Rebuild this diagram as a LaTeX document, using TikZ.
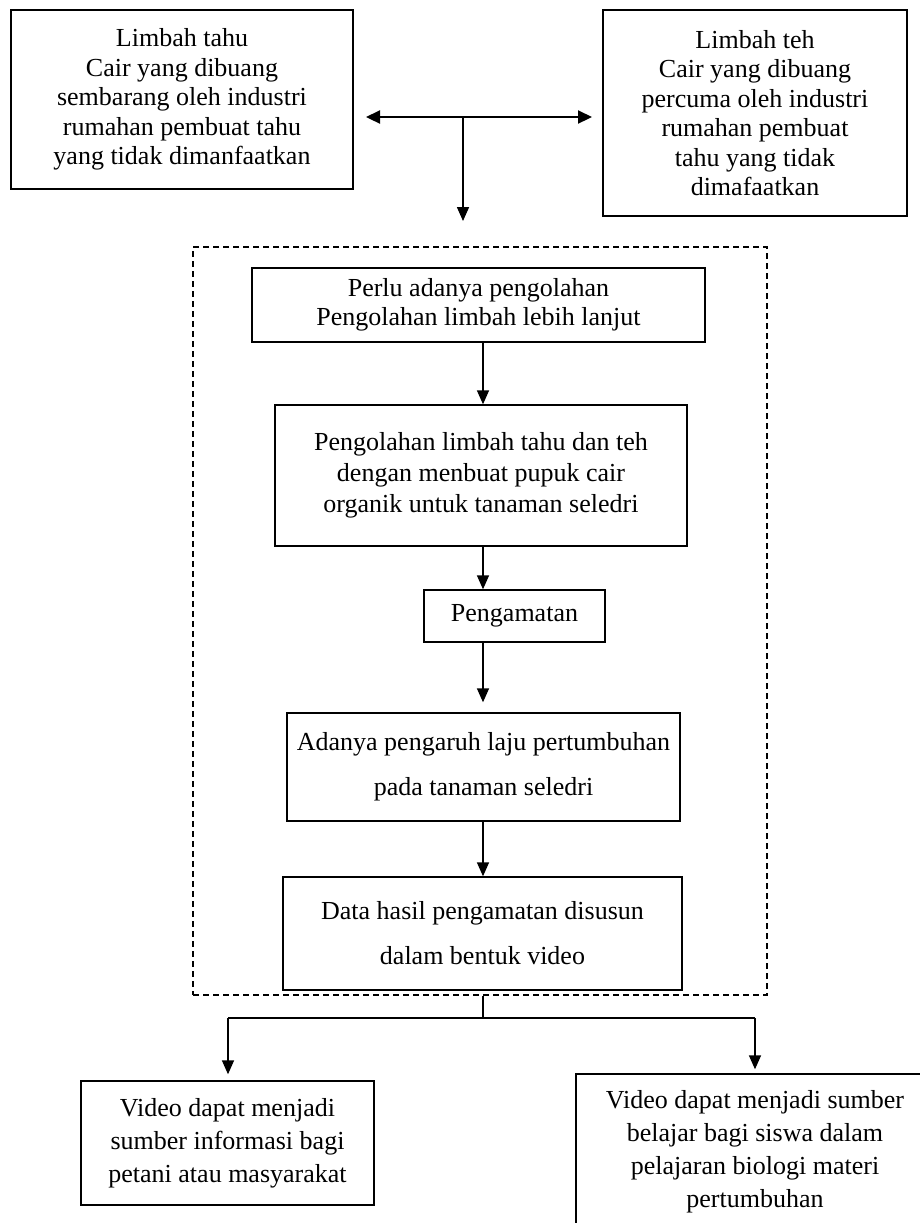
\documentclass[tikz,border=0pt]{standalone}
\usepackage{fontspec}
\setmainfont{Liberation Serif}
\usetikzlibrary{arrows.meta, calc}

\begin{document}
\begin{tikzpicture}[x=0.5pt, y=-0.5pt,
    box/.style={draw, line width=0.7pt, align=center, inner sep=0pt, font=\fontsize{13}{14.7}\selectfont},
    widebox/.style={box, font=\fontsize{13}{22.5}\selectfont},
    arr/.style={-{Triangle[length=7pt, width=6pt]}, line width=0.8pt}]
    \useasboundingbox (0,0) rectangle (920,1223);

    \node[box, minimum width=171pt, minimum height=89.5pt] (tahu) at (182,99.5) {Limbah tahu\\Cair yang dibuang\\sembarang oleh industri\\rumahan pembuat tahu\\yang tidak dimanfaatkan};
    \node[box, minimum width=152pt, minimum height=103pt] (teh) at (755,113) {Limbah teh\\Cair yang dibuang\\percuma oleh industri\\rumahan pembuat\\tahu yang tidak\\dimafaatkan};

    \node[draw, dash pattern=on 3pt off 2pt, line width=0.7pt, minimum width=287pt, minimum height=374pt] (frame) at (480,621) {};
    \node[box, minimum width=226.5pt, minimum height=37pt] (olah) at (478.5,305) {Perlu adanya pengolahan\\Pengolahan limbah lebih lanjut};
    \node[box, font=\fontsize{13}{15.5}\selectfont, minimum width=206pt, minimum height=70.5pt] (pupuk) at (481,475.5) {Pengolahan limbah tahu dan teh\\dengan menbuat pupuk cair\\organik untuk tanaman seledri};
    \node[box, minimum width=90.5pt, minimum height=26pt] (amati) at (514.5,616) {Pengamatan};
    \node[widebox, minimum width=196.5pt, minimum height=54pt] (pengaruh) at (483.5,767) {Adanya pengaruh laju pertumbuhan\\pada tanaman seledri};
    \node[widebox, minimum width=199.5pt, minimum height=56.5pt] (video) at (482.5,933.5) {Data hasil pengamatan disusun\\dalam bentuk video};

    \node[box, font=\fontsize{13}{16.5}\selectfont, minimum width=146.5pt, minimum height=62pt] (petani) at (227.5,1143) {Video dapat menjadi\\sumber informasi bagi\\petani atau masyarakat};
    \node[box, font=\fontsize{13}{16.5}\selectfont, minimum width=179pt, minimum height=101pt] (siswa) at (755,1175) {Video dapat menjadi sumber\\belajar bagi siswa dalam\\pelajaran biologi materi\\pertumbuhan\\[10pt]};

    \coordinate (jl) at (366,117);
    \coordinate (jr) at (592,117);
    \coordinate (tee) at (463,117);
    \coordinate (drop) at (463,221);
    \draw[{Triangle[length=7pt, width=6.5pt]}-{Triangle[length=7pt, width=6.5pt]}, line width=1.1pt] (jl) -- (jr);
    \draw[arr] (tee) -- (drop);

    \coordinate (axis) at (483,0);
    \draw[arr] (olah.south -| axis) -- (pupuk.north -| axis);
    \draw[arr] (pupuk.south -| axis) -- (amati.north -| axis);
    \draw[arr, shorten >=5pt] (amati.south -| axis) -- (pengaruh.north -| axis);
    \draw[arr] (pengaruh.south -| axis) -- (video.north -| axis);

    \coordinate (split) at (483,1018);
    \coordinate (bl) at (228,1018);
    \coordinate (br) at (755,1018);
    \draw[line width=0.8pt] (frame.south -| axis) -- (split);
    \draw[line width=0.8pt] (bl) -- (br);
    \draw[arr, shorten >=3pt] (bl) -- (bl |- petani.north);
    \draw[arr, shorten >=2pt] (br) -- (br |- siswa.north);
\end{tikzpicture}
\end{document}
